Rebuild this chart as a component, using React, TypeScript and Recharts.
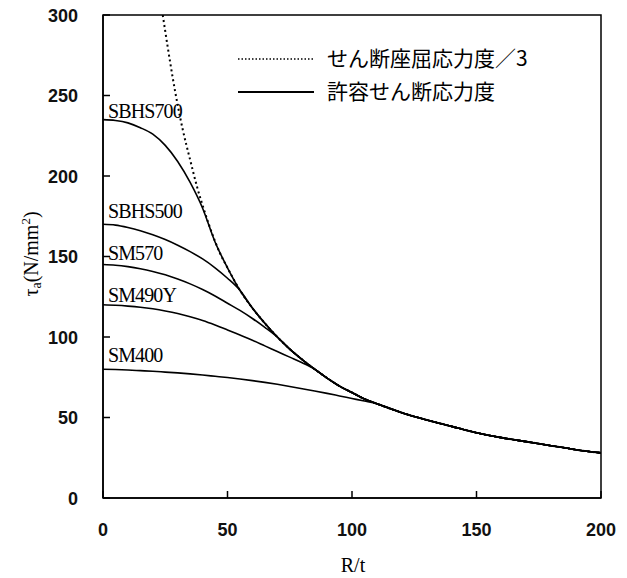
import React from 'react';
import { LineChart, Line, XAxis, YAxis, ReferenceArea } from 'recharts';

// R/t grid used by the allowable stress curves
const rt = [0, 5, 10, 15, 20, 25, 30, 35, 40, 45, 50, 55, 60, 65, 70, 75, 80, 85, 90, 95, 100, 105, 110, 120, 130, 140, 150, 160, 170, 180, 190, 200];

// 許容せん断応力度 (N/mm2)
const sbhs700 = [235, 234.5, 233, 230, 226, 219, 209, 196, 180, 159, 143, 129, 118, 108.5, 100, 92.5, 86, 80, 74.5, 69.5, 65.5, 61.5, 58.5, 53, 48.5, 44.5, 40.5, 37.5, 35, 32.5, 30, 28];
const sbhs500 = [170, 169.5, 168, 166, 163.5, 160.5, 157, 153, 148.5, 143, 136.5, 129, 118, 108.5, 100, 92.5, 86, 80, 74.5, 69.5, 65.5, 61.5, 58.5, 53, 48.5, 44.5, 40.5, 37.5, 35, 32.5, 30, 28];
const sm570 = [145, 144.6, 143.7, 142.4, 140.7, 138.6, 136, 133, 129.5, 125.5, 121, 116.5, 111.5, 106, 100, 92.5, 86, 80, 74.5, 69.5, 65.5, 61.5, 58.5, 53, 48.5, 44.5, 40.5, 37.5, 35, 32.5, 30, 28];
const sm490y = [120, 119.7, 119.2, 118.5, 117.5, 116.2, 114.6, 112.6, 110.3, 107.5, 104.4, 101.2, 98, 94.5, 91, 87.5, 84, 80, 74.5, 69.5, 65.5, 61.5, 58.5, 53, 48.5, 44.5, 40.5, 37.5, 35, 32.5, 30, 28];
const sm400 = [80, 79.8, 79.5, 79.1, 78.7, 78.2, 77.7, 77.1, 76.4, 75.6, 74.8, 73.9, 72.9, 71.8, 70.6, 69.3, 67.9, 66.5, 65, 63.4, 61.8, 60.2, 58.5, 53, 48.5, 44.5, 40.5, 37.5, 35, 32.5, 30, 28];

// せん断座屈応力度／3
const bucklingRt = [24, 26, 28, 30, 32, 35, 38, 41, 44, 47, 50, 55, 60, 65, 70, 75, 80, 85, 90, 95, 100, 105, 110, 120, 130, 140, 150, 160, 170, 180, 190, 200];
const bucklingTau = [300, 280, 261, 244, 229, 210, 192, 177, 163.5, 152, 143, 129, 118, 108.5, 100, 92.5, 86, 80, 74.5, 69.5, 65.5, 61.5, 58.5, 53, 48.5, 44.5, 40.5, 37.5, 35, 32.5, 30, 28];

const xTicks = [0, 50, 100, 150, 200];
const yTicks = [0, 50, 100, 150, 200, 250, 300];

const steelLabels = ['SBHS700', 'SBHS500', 'SM570', 'SM490Y', 'SM400'];
const legendLabels = ['せん断座屈応力度／3', '許容せん断応力度'];

const toPoints = (xs: number[], ys: number[]) => xs.map((r, i) => ({ r, tau: ys[i] }));

const curves = [sbhs700, sbhs500, sm570, sm490y, sm400];

const sans = '"Liberation Sans", Arial, sans-serif';
const serif = '"Liberation Serif", "Times New Roman", serif';
const cjk = '"Noto Sans CJK JP", sans-serif';

// label baselines next to the y axis
const labelY = [118, 218, 260, 302, 362];

// inward tick + label, for the left axis (x is the label anchor, 25px left of the axis)
const YTick = (props: any) => {
  const { x, y, payload } = props;
  return (
    <g>
      <line x1={x + 25} x2={x + 32} y1={y} y2={y} stroke="#000" strokeWidth={1.5} />
      <text x={x} y={y + 6.5} textAnchor="end" fontFamily={sans} fontSize={18} fontWeight={700} fill="#111">
        {payload.value}
      </text>
    </g>
  );
};

// inward tick + label, for the bottom axis (y is 24px below the axis)
const XTick = (props: any) => {
  const { x, y, payload } = props;
  return (
    <g>
      <line x1={x} x2={x} y1={y - 24} y2={y - 31} stroke="#000" strokeWidth={1.5} />
      <text x={x} y={y + 14} textAnchor="middle" fontFamily={sans} fontSize={18} fontWeight={700} fill="#111">
        {payload.value}
      </text>
    </g>
  );
};

const App: React.FC = () => {
  return (
    <div style={{ position: 'absolute', left: 0, top: 0, width: 627, height: 578, background: '#fff' }}>
      <LineChart width={627} height={578} margin={{ top: 15, right: 26, bottom: 0, left: 0 }}>
        <XAxis
          type="number"
          dataKey="r"
          domain={[0, 200]}
          ticks={xTicks}
          tickSize={0}
          tickMargin={24}
          tickLine={false}
          height={80}
          stroke="#000"
          strokeWidth={1.5}
          tick={<XTick />}
          allowDataOverflow
        />
        <YAxis
          type="number"
          dataKey="tau"
          domain={[0, 300]}
          ticks={yTicks}
          tickSize={0}
          tickMargin={25}
          tickLine={false}
          width={103}
          stroke="#000"
          strokeWidth={1.5}
          tick={<YTick />}
          allowDataOverflow
        />
        <ReferenceArea x1={0} x2={200} y1={0} y2={300} fill="none" stroke="#000" strokeWidth={1.5} ifOverflow="visible" />
        <Line
          data={toPoints(bucklingRt, bucklingTau)}
          dataKey="tau"
          type="monotone"
          stroke="#000"
          strokeWidth={2}
          strokeDasharray="2 3"
          dot={false}
          isAnimationActive={false}
        />
        {curves.map((c, i) => (
          <Line
            key={steelLabels[i]}
            data={toPoints(rt, c)}
            dataKey="tau"
            type="monotone"
            stroke="#000"
            strokeWidth={1.6}
            dot={false}
            isAnimationActive={false}
          />
        ))}
      </LineChart>
      <svg width={627} height={578} style={{ position: 'absolute', left: 0, top: 0, pointerEvents: 'none' }}>
        {steelLabels.map((s, i) => (
          <text key={s} x={108} y={labelY[i]} fontFamily={serif} fontSize={20} fill="#000" letterSpacing={-0.9}>
            {s}
          </text>
        ))}
        <line x1={238} x2={314} y1={59} y2={59} stroke="#000" strokeWidth={1.6} strokeDasharray="1.5 2" />
        <line x1={238} x2={314} y1={92} y2={92} stroke="#000" strokeWidth={2} />
        <text x={327} y={66} fontFamily={cjk} fontSize={21} fill="#000">{legendLabels[0]}</text>
        <text x={327} y={99} fontFamily={cjk} fontSize={21} fill="#000">{legendLabels[1]}</text>
        <text transform="translate(38,254) rotate(-90)" textAnchor="middle" fontFamily={serif} fontSize={20} fill="#000">
          τ<tspan fontSize={14} dy={3}>a</tspan>
          <tspan dy={-3}>(N/mm</tspan>
          <tspan fontSize={13} dy={-8}>2</tspan>
          <tspan dy={8}>)</tspan>
        </text>
        <text x={353} y={572} textAnchor="middle" fontFamily={serif} fontSize={20} fill="#000">R/t</text>
      </svg>
    </div>
  );
};

export default App;
